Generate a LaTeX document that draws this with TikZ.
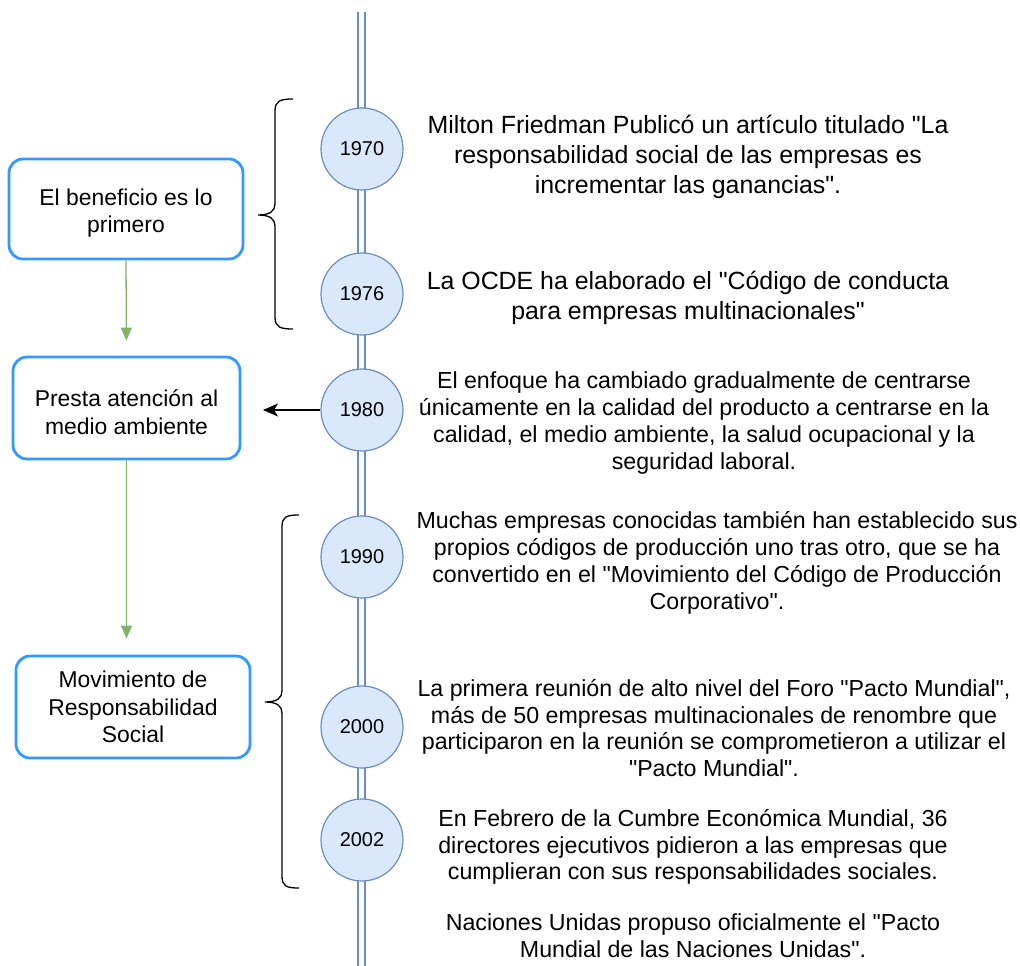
\documentclass[tikz,border=0pt]{standalone}
\usepackage{fontspec}
\setmainfont{Liberation Sans}[Ligatures=TeXOff]
\usetikzlibrary{arrows.meta}
\definecolor{tlblue}{HTML}{6C8EBF}
\definecolor{tlfill}{HTML}{DAE8FC}
\definecolor{boxblue}{HTML}{3399FF}
\definecolor{arrgreen}{HTML}{82B366}
\newcommand{\toplift}{\rule{0pt}{25pt}}
\begin{document}
\begin{tikzpicture}[x=1pt,y=-1pt,
  timeline/.style={draw=tlblue, line width=1.6pt, double=white, double distance=5pt},
  yearnode/.style={circle, draw=tlblue, fill=tlfill, line width=1.2pt, minimum size=82pt, inner sep=0pt, font=\fontsize{20}{24}\selectfont},
  stagebox/.style={draw=boxblue, line width=2.8pt, rounded corners=14pt, minimum width=232pt, minimum height=100pt, align=center, fill=white, font=\fontsize{22.9}{27.5}\selectfont, inner sep=0pt},
  descbig/.style={align=center, inner sep=0pt, font=\fontsize{24.9}{30}\selectfont},
  desc/.style={align=center, inner sep=0pt, font=\fontsize{23.2}{26.8}\selectfont},
  garrow/.style={draw=arrgreen, line width=1.3pt, -{Triangle[width=11pt,length=13pt]}},
  karrow/.style={draw=black, line width=1.3pt, -{Stealth[length=15pt,width=13pt,inset=4pt]}},
  bracestyle/.style={draw=black, line width=1.3pt}
]
\useasboundingbox (0,0) rectangle (1020,966);
\fill[white] (0,0) rectangle (1020,966);

% timeline
\coordinate (ttop) at (361.5,12);
\coordinate (tbot) at (361.5,966);
\draw[timeline] (ttop) -- (tbot);

% year circles
\node[yearnode] (y1970) at (362,149) {1970};
\node[yearnode] (y1976) at (362,294) {1976};
\node[yearnode] (y1980) at (362,410) {1980};
\node[yearnode] (y1990) at (362,557) {1990};
\node[yearnode] (y2000) at (362,727) {2000};
\node[yearnode] (y2002) at (362,840) {2002};

% stage boxes
\node[stagebox, minimum width=234pt] (b1) at (126,209) {\toplift El beneficio es lo\\primero};
\node[stagebox, minimum width=227pt, minimum height=102pt] (b2) at (126.5,408) {\toplift Presta atención al\\medio ambiente};
\node[stagebox, minimum width=234pt, minimum height=102pt] (b3) at (133,707) {Movimiento de\\Responsabilidad\\Social};

% arrows
\draw[garrow, shorten >=15pt] (b1.south) -- (b2.north);
\draw[garrow, shorten >=16pt] (b2.south) -- (b2.south |- b3.north);
\coordinate (a1980) at (263,410);
\draw[karrow] (y1980.west) -- (a1980);

% braces
\draw[bracestyle] (293,99) .. controls (280,99) and (275,101) .. (275,111) -- (275,204)
  .. controls (275,211) and (270,215) .. (258,215)
  .. controls (270,215) and (275,219) .. (275,226) -- (275,317)
  .. controls (275,327) and (280,329) .. (293,329);
\draw[bracestyle] (299,515) .. controls (286,515) and (282,517) .. (282,527) -- (282,691)
  .. controls (282,698) and (277,702) .. (265,702)
  .. controls (277,702) and (282,706) .. (282,713) -- (282,876)
  .. controls (282,886) and (286,888) .. (299,888);

% descriptions
\node[descbig] (d1970) at (688,157) {Milton Friedman Publicó un artículo titulado "La\\responsabilidad social de las empresas es\\incrementar las ganancias".};
\node[descbig] (d1976) at (688,298) {La OCDE ha elaborado el "Código de conducta\\para empresas multinacionales"};
\node[desc] (d1980) at (704,423) {El enfoque ha cambiado gradualmente de centrarse\\únicamente en la calidad del producto a centrarse en la\\calidad, el medio ambiente, la salud ocupacional y la\\seguridad laboral.};
\node[desc] (d1990) at (717,563) {Muchas empresas conocidas también han establecido sus\\propios códigos de producción uno tras otro, que se ha\\convertido en el "Movimiento del Código de Producción\\Corporativo".};
\node[desc] (d2000) at (714,728) {La primera reunión de alto nivel del Foro "Pacto Mundial",\\más de 50 empresas multinacionales de renombre que\\participaron en la reunión se comprometieron a utilizar el\\"Pacto Mundial".};
\node[desc] (d2002) at (693,847) {En Febrero de la Cumbre Económica Mundial, 36\\directores ejecutivos pidieron a las empresas que\\cumplieran con sus responsabilidades sociales.};
\node[desc] (dnu) at (693,936) {Naciones Unidas propuso oficialmente el "Pacto\\Mundial de las Naciones Unidas".};
\end{tikzpicture}
\end{document}
